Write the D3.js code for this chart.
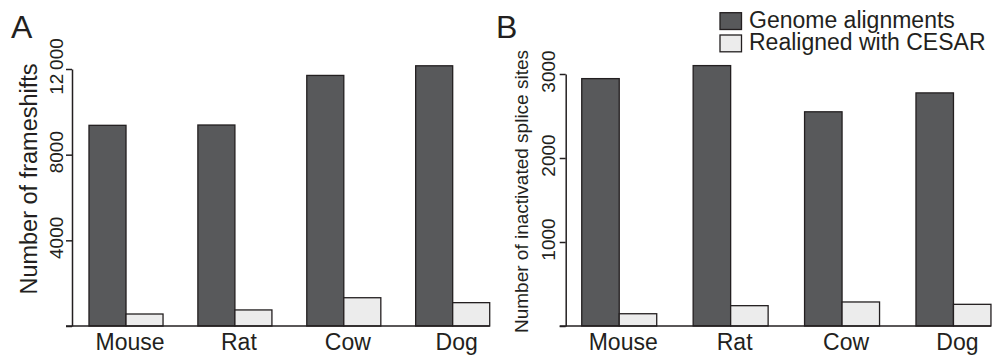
<!DOCTYPE html>
<html>
<head>
<meta charset="utf-8">
<script src="https://cdn.jsdelivr.net/npm/d3@7"></script>
<style>
  html, body { margin: 0; padding: 0; background: #fff; }
  svg { display: block; font-family: "Liberation Sans", Arial, Helvetica, sans-serif; }
</style>
</head>
<body>
<svg id="chart" width="992" height="356"></svg>
<script>
// ---- data ----
const categories = ["Mouse", "Rat", "Cow", "Dog"];
const seriesNames = ["Genome alignments", "Realigned with CESAR"];
const frameshiftsGenome = [9370, 9385, 11700, 12150];
const frameshiftsCesar = [560, 750, 1320, 1090];
const spliceGenome = [2945, 3100, 2550, 2775];
const spliceCesar = [146, 242, 286, 258];
const ticksA = [0, 4000, 8000, 12000];
const tickLabelsA = ["", "4000", "8000", "12\u2009000"];
const ticksB = [0, 1000, 2000, 3000];
const tickLabelsB = ["", "1000", "2000", "3000"];

// ---- styles ----
const ink = "#231f20";
const colors = ["#58595b", "#ececec"];

const svg = d3.select("#chart");

function panel(cfg) {
  const g = svg.append("g");
  const x = d3.scaleBand().domain(categories)
    .range(cfg.xRange).paddingInner(cfg.pi).paddingOuter(cfg.po);
  const xs = d3.scaleBand().domain(seriesNames).range([0, x.bandwidth()]).padding(0);
  const y = d3.scaleLinear().domain([0, cfg.ticks[cfg.ticks.length - 1]]).range(cfg.yRange);
  const axisX = cfg.xRange[0];

  // bars
  const rows = categories.map((c, i) => ({ c, vals: [cfg.s1[i], cfg.s2[i]] }));
  const grp = g.selectAll("g.grp").data(rows).join("g")
    .attr("transform", d => `translate(${x(d.c)},0)`);
  grp.selectAll("rect").data(d => d.vals.map((v, k) => ({ k, v }))).join("rect")
    .attr("x", d => xs(seriesNames[d.k]))
    .attr("width", xs.bandwidth())
    .attr("y", d => y(d.v))
    .attr("height", d => y(0) - y(d.v))
    .attr("fill", d => colors[d.k])
    .attr("stroke", ink)
    .attr("stroke-width", 1.3);

  // baseline
  g.append("line")
    .attr("x1", axisX - 6).attr("x2", x(categories[categories.length - 1]) + x.bandwidth())
    .attr("y1", y(0)).attr("y2", y(0))
    .attr("stroke", ink).attr("stroke-width", 1.5);

  // y axis
  const ax = g.append("g").attr("transform", `translate(${axisX},0)`)
    .call(d3.axisLeft(y).tickValues(cfg.ticks).tickSize(6).tickSizeOuter(0)
      .tickFormat((d, i) => cfg.tickLabels[i]));
  ax.select(".domain").attr("stroke", ink).attr("stroke-width", 1.5);
  ax.selectAll(".tick line").attr("stroke", ink).attr("stroke-width", 1.5);
  ax.selectAll(".tick text")
    .attr("x", null).attr("dy", null)
    .attr("text-anchor", "middle")
    .attr("transform", `translate(${cfg.tickOff},-3) rotate(-90)`)
    .attr("fill", ink)
    .style("font-size", "19px")
    .style("font-family", "'Liberation Sans', Arial, sans-serif");

  // category labels
  g.selectAll("text.cat").data(categories).join("text")
    .attr("class", "cat")
    .attr("x", d => x(d) + x.bandwidth() / 2 + 4)
    .attr("y", 350)
    .attr("text-anchor", "middle")
    .attr("fill", ink)
    .style("font-size", "23px")
    .text(d => d);

  // y title
  g.append("text")
    .attr("transform", `translate(${cfg.titleX},${cfg.titleY}) rotate(-90)`)
    .attr("text-anchor", "middle")
    .attr("fill", ink)
    .style("font-size", cfg.titleSize + "px")
    .text(cfg.title);

  // panel letter
  g.append("text")
    .attr("x", cfg.letterX).attr("y", 38)
    .attr("fill", ink)
    .style("font-size", "32px")
    .text(cfg.letter);
}

panel({
  xRange: [72, 506.7], pi: 0.32, po: 0.156,
  yRange: [326, 69], ticks: ticksA, tickLabels: tickLabelsA,
  s1: frameshiftsGenome, s2: frameshiftsCesar,
  tickOff: -9, title: "Number of frameshifts", titleX: 37, titleY: 179, titleSize: 23.5,
  letter: "A", letterX: 11
});

panel({
  xRange: [565.7, 1007], pi: 0.327, po: 0.144,
  yRange: [326, 74], ticks: ticksB, tickLabels: tickLabelsB,
  s1: spliceGenome, s2: spliceCesar,
  tickOff: -10.5, title: "Number of inactivated splice sites", titleX: 528, titleY: 191.5, titleSize: 19,
  letter: "B", letterX: 496
});

// legend
const leg = svg.append("g");
seriesNames.forEach((s, i) => {
  leg.append("rect")
    .attr("x", 720).attr("y", 12.7 + i * 22.3)
    .attr("width", 21.5).attr("height", 16.8)
    .attr("fill", colors[i]).attr("stroke", ink).attr("stroke-width", 1.3);
  leg.append("text")
    .attr("x", 749).attr("y", 28.3 + i * 21.7)
    .attr("fill", ink)
    .style("font-size", "23px")
    .text(s);
});
</script>
</body>
</html>
